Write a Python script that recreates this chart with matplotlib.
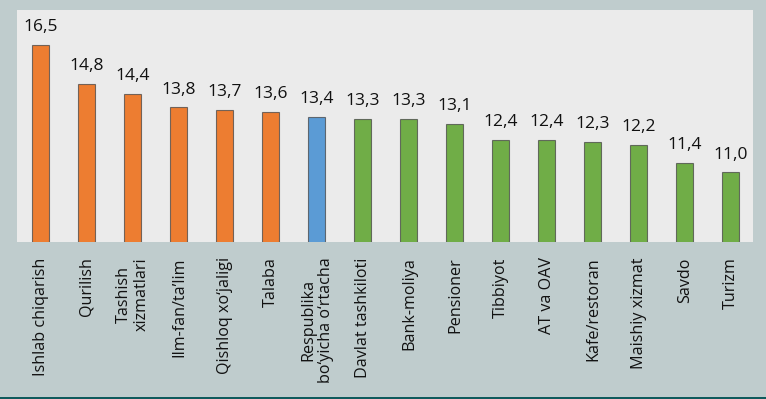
import matplotlib
matplotlib.use("Agg")
import matplotlib.pyplot as plt
from matplotlib.patches import Rectangle

categories = ["Ishlab chiqarish", "Qurilish", "Tashish\nxizmatlari", "Ilm-fan/ta\u2019lim",
              "Qishloq xo\u2018jaligi", "Talaba", "Respublika\nbo\u2018yicha o\u2018rtacha",
              "Davlat tashkiloti", "Bank-moliya", "Pensioner", "Tibbiyot", "AT va OAV",
              "Kafe/restoran", "Maishiy xizmat", "Savdo", "Turizm"]
values = [16.5, 14.8, 14.4, 13.8, 13.7, 13.6, 13.4, 13.3, 13.3, 13.1, 12.4, 12.4, 12.3, 12.2, 11.4, 11.0]
groups = ["high"] * 6 + ["avg"] + ["low"] * 9
value_labels = ["16,5", "14,8", "14,4", "13,8", "13,7", "13,6", "13,4", "13,3", "13,3", "13,1",
                "12,4", "12,4", "12,3", "12,2", "11,4", "11,0"]
group_colors = {"high": "#ED7D31", "avg": "#5B9BD5", "low": "#70AD47"}

plt.rcParams['font.family'] = ['Open Sans', 'DejaVu Sans']

W, H = 766, 399
fig = plt.figure(figsize=(W / 100, H / 100), dpi=100)
fig.patch.set_facecolor("#bfcccd")
fig.add_artist(Rectangle((0, 0), 1, 2.2 / H, transform=fig.transFigure,
                         facecolor="#0f5a5c", edgecolor="none"))

ax = fig.add_axes([17 / W, 1 - 242 / H, (753 - 17) / W, (242 - 10) / H])
ax.set_facecolor("#ebebeb")
for s in ax.spines.values():
    s.set_visible(False)

x = list(range(len(values)))
colors = [group_colors[g] for g in groups]
ax.bar(x, values, width=0.37, color=colors, edgecolor=(0.25, 0.25, 0.25, 0.7),
       linewidth=0.8, zorder=2)

for xi, v, lab in zip(x, values, value_labels):
    ax.annotate(lab, (xi, v), xytext=(0, 10), textcoords="offset points",
                ha="center", va="baseline", fontsize=12.5, color="#111111")

ax.set_ylim(8, 18)
ax.set_xlim(-0.52, 15.48)
ax.set_yticks([])
ax.set_xticks(x)
ax.set_xticklabels(categories, rotation=90, ha="center", va="top",
                   fontsize=11.6, color="#111111", linespacing=1.1)
ax.tick_params(axis="x", length=0, pad=11)

fig.savefig("out.png", dpi=100, facecolor=fig.get_facecolor())
